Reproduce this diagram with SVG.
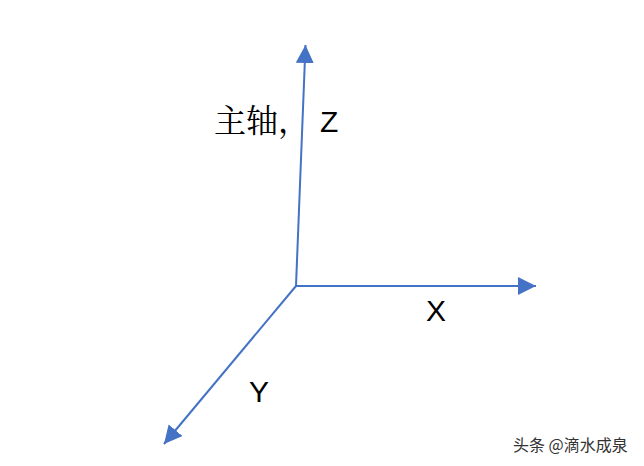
<svg xmlns="http://www.w3.org/2000/svg" width="644" height="466" viewBox="0 0 644 466">
<style>
.ax{stroke:#4472C4;stroke-width:2;fill:none}
.lbl{font-family:"Liberation Sans","Noto Sans CJK SC",sans-serif;font-size:30px;fill:#000}
.cjk{font-family:"Noto Serif CJK SC","Noto Sans CJK SC",serif;font-size:32px;fill:#000}
.wm{font-family:"Noto Sans CJK SC",sans-serif;font-size:16px;fill:#333}
</style>
<defs>
<marker id="ah" markerUnits="userSpaceOnUse" markerWidth="20" markerHeight="20" refX="18" refY="9" orient="auto">
<path d="M0,0 L18,9 L0,18 Z" fill="#4472C4"/>
</marker>
</defs>
<rect width="644" height="466" fill="#fff"/>
<g id="connectors">
<line class="ax" x1="296" y1="286" x2="305.5" y2="45" marker-end="url(#ah)"/>
<line class="ax" x1="296" y1="286" x2="536" y2="286" marker-end="url(#ah)"/>
<line class="ax" x1="296" y1="286" x2="164" y2="444" marker-end="url(#ah)"/>
</g>
<g id="label-z">
<text class="cjk" x="214" y="132">主轴，</text>
<text class="lbl" x="320" y="132">Z</text>
</g>
<g id="label-x"><text class="lbl" x="426" y="321">X</text></g>
<g id="label-y"><text class="lbl" x="249" y="402">Y</text></g>
<g id="watermark"><text class="wm" x="513" y="451">头条 @滴水成泉</text></g>
</svg>
